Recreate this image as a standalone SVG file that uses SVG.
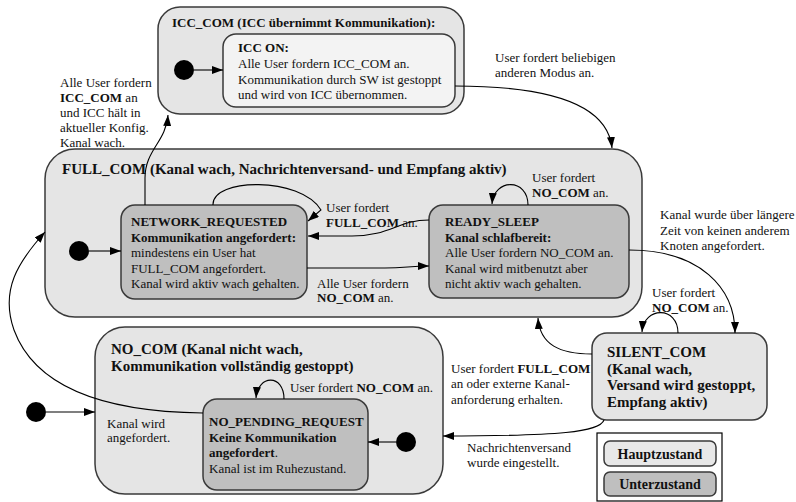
<svg xmlns="http://www.w3.org/2000/svg" width="796" height="502" viewBox="0 0 796 502" font-family="'Liberation Serif', Tinos, 'Times New Roman', 'DejaVu Serif', serif">
  <defs>
    <marker id="arrow" viewBox="0 0 11 8" refX="11" refY="4" markerWidth="11" markerHeight="8" markerUnits="userSpaceOnUse" orient="auto">
      <path d="M0,0 L11,4 L0,8 z" fill="#000"/>
    </marker>
    <style>
      .main { fill: #e5e5e5; stroke: #3a3a3a; stroke-width: 1.5; }
      .sub { fill: #bfbfbf; stroke: #3a3a3a; stroke-width: 1.5; }
      .light { fill: #f3f3f3; stroke: #3a3a3a; stroke-width: 1.5; }
      .legend { fill: #ffffff; stroke: #000; stroke-width: 1.2; }
      .dot { fill: #000; }
      .edge { fill: none; stroke: #000; stroke-width: 1.1; marker-end: url(#arrow); }
      text { fill: #111; }
      .t { font-size: 13px; }
      .b { font-weight: bold; }
      .h { font-size: 15px; font-weight: bold; }
      .lg { font-size: 14px; font-weight: bold; }
    </style>
  </defs>

  <!-- Main states -->
  <g id="icc_com">
    <rect class="main" x="158" y="7" width="306" height="107" rx="22"/>
    <text class="t b" x="172" y="27" font-size="13.5">ICC_COM (ICC übernimmt Kommunikation):</text>
  </g>
  <g id="icc_on">
    <rect class="light" x="223" y="34" width="232" height="73" rx="13"/>
    <text class="t" x="238" y="52"><tspan class="b">ICC ON:</tspan><tspan x="238" dy="16">Alle User fordern ICC_COM an.</tspan><tspan x="238" dy="16">Kommunikation durch SW ist gestoppt</tspan><tspan x="238" dy="15">und wird von ICC übernommen.</tspan></text>
  </g>

  <g id="full_com">
    <rect class="main" x="45" y="149" width="597" height="168" rx="30"/>
    <text class="h" x="62" y="174">FULL_COM (Kanal wach, Nachrichtenversand- und Empfang aktiv)</text>
  </g>
  <g id="network_requested">
    <rect class="sub" x="121" y="205" width="186" height="94" rx="14"/>
    <text class="t" x="131" y="226"><tspan class="b">NETWORK_REQUESTED</tspan><tspan class="b" x="131" dy="15.5">Kommunikation angefordert:</tspan><tspan x="131" dy="15.5">mindestens ein User hat</tspan><tspan x="131" dy="15.5">FULL_COM angefordert.</tspan><tspan x="131" dy="15.5">Kanal wird aktiv wach gehalten.</tspan></text>
  </g>
  <g id="ready_sleep">
    <rect class="sub" x="429" y="205" width="200" height="93" rx="14"/>
    <text class="t" x="445" y="226"><tspan class="b">READY_SLEEP</tspan><tspan class="b" x="445" dy="15.5">Kanal schlafbereit:</tspan><tspan x="445" dy="15.5">Alle User fordern NO_COM an.</tspan><tspan x="445" dy="15.5">Kanal wird mitbenutzt aber</tspan><tspan x="445" dy="15.5">nicht aktiv wach gehalten.</tspan></text>
  </g>

  <g id="silent_com">
    <rect class="main" x="592" y="333" width="175" height="87" rx="15"/>
    <text class="h" x="607" y="357"><tspan>SILENT_COM</tspan><tspan x="607" dy="16.5">(Kanal wach,</tspan><tspan x="607" dy="16.5">Versand wird gestoppt,</tspan><tspan x="607" dy="16.5">Empfang aktiv)</tspan></text>
  </g>

  <g id="no_com">
    <rect class="main" x="95" y="327" width="348" height="167" rx="30"/>
    <text class="h" x="111" y="354"><tspan>NO_COM (Kanal nicht wach,</tspan><tspan x="111" dy="16.5">Kommunikation vollständig gestoppt)</tspan></text>
  </g>
  <g id="no_pending_request">
    <rect class="sub" x="203" y="399" width="165" height="91" rx="14"/>
    <text class="t" x="209" y="426"><tspan class="b">NO_PENDING_REQUEST</tspan><tspan class="b" x="209" dy="15.5">Keine Kommunikation</tspan><tspan x="209" dy="15.5"><tspan class="b">angefordert</tspan>.</tspan><tspan x="209" dy="15.5">Kanal ist im Ruhezustand.</tspan></text>
  </g>

  <!-- Initial pseudo-states -->
  <g id="initial_icc"><circle class="dot" cx="184" cy="70" r="10"/></g>
  <g id="initial_full"><circle class="dot" cx="79" cy="251" r="10"/></g>
  <g id="initial_outer"><circle class="dot" cx="36" cy="412" r="10"/></g>
  <g id="initial_no_com"><circle class="dot" cx="406" cy="442" r="10"/></g>

  <!-- Legend -->
  <g id="legend">
    <rect class="legend" x="597" y="433" width="125" height="68"/>
    <rect class="light" x="604" y="441" width="112" height="25" rx="6" style="fill:#e8e8e8"/>
    <rect class="sub" x="604" y="472" width="112" height="24" rx="6"/>
    <text class="lg" x="660" y="459" text-anchor="middle">Hauptzustand</text>
    <text class="lg" x="660" y="489" text-anchor="middle">Unterzustand</text>
  </g>

  <!-- Transitions -->
  <g id="connectors">
    <path class="edge" d="M194,70 L223,70"/>
    <path class="edge" d="M455,86 C560,86 608,108 612,148"/>
    <path class="edge" d="M145,205 L145,178 C145,150 166,142 168,115"/>
    <path class="edge" d="M89,251 L121,251"/>
    <path class="edge" d="M213,205 C212,178 300,176 321,210 L308,221"/>
    <path class="edge" d="M429,220 C398,220 390,236 352,236 L308,236"/>
    <path class="edge" d="M307,268 L385,268 C405,268 410,266 429,266"/>
    <path class="edge" d="M528,205 C528,178 494,178 492,204"/>
    <path class="edge" d="M629,250 C700,250 735,288 735,333"/>
    <path class="edge" d="M678,333 C678,306 644,306 642,332"/>
    <path class="edge" d="M592,354 C560,354 540,345 538,318"/>
    <path class="edge" d="M604,420 C600,432 560,436 443,436"/>
    <path class="edge" d="M396,442 L368,442"/>
    <path class="edge" d="M284,399 C284,374 258,374 256,398"/>
    <path class="edge" d="M203,413 C120,412 38,395 14,330 C0,290 18,262 45,232"/>
    <path class="edge" d="M46,412 L95,412"/>
  </g>

  <!-- Transition labels -->
  <g id="labels" class="t">
    <text x="495" y="62">User fordert beliebigen</text>
    <text x="495" y="77">anderen Modus an.</text>

    <text x="60" y="87">Alle User fordern</text>
    <text x="60" y="102"><tspan class="b">ICC_COM</tspan> an</text>
    <text x="60" y="117">und ICC hält in</text>
    <text x="60" y="132">aktueller Konfig.</text>
    <text x="60" y="147">Kanal wach.</text>

    <text x="326" y="212">User fordert</text>
    <text x="326" y="227"><tspan class="b">FULL_COM</tspan> an.</text>

    <text x="317" y="288">Alle User fordern</text>
    <text x="317" y="302"><tspan class="b">NO_COM</tspan> an.</text>

    <text x="532" y="182">User fordert</text>
    <text x="532" y="197"><tspan class="b">NO_COM</tspan> an.</text>

    <text x="660" y="219">Kanal wurde über längere</text>
    <text x="660" y="235">Zeit von keinen anderem</text>
    <text x="660" y="250">Knoten angefordert.</text>

    <text x="652" y="297">User fordert</text>
    <text x="652" y="312"><tspan class="b">NO_COM</tspan> an.</text>

    <text x="451" y="373">User fordert <tspan class="b">FULL_COM</tspan></text>
    <text x="451" y="388">an oder externe Kanal-</text>
    <text x="451" y="404">anforderung erhalten.</text>

    <text x="467" y="452">Nachrichtenversand</text>
    <text x="467" y="467">wurde eingestellt.</text>

    <text x="290" y="392">User fordert <tspan class="b">NO_COM</tspan> an.</text>

    <text x="107" y="428">Kanal wird</text>
    <text x="107" y="442">angefordert.</text>
  </g>
</svg>
